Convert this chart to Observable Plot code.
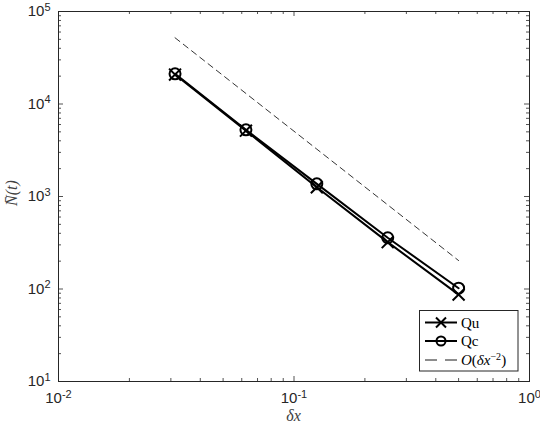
<!DOCTYPE html>
<html><head><meta charset="utf-8">
<script src="https://cdn.jsdelivr.net/npm/d3@7"></script>
<script src="https://cdn.jsdelivr.net/npm/@observablehq/plot@0.6"></script>
<style>body{margin:0;background:#fff}#chart{width:540px;height:428px}</style>
</head><body><div id="chart"></div>
<script>
// ---- data ----
const dx = [1/32, 1/16, 1/8, 1/4, 1/2];
const Qu = [20800, 5150, 1260, 321, 87];
const Qc = [21200, 5260, 1370, 358, 102];
const refO2 = [52000, 13000, 3250, 812, 203];
const xMajor = [0.01, 0.1, 1];
const xTickLabels = ["10^-2", "10^-1", "10^0"];
const yMajor = [10, 100, 1000, 10000, 100000];
const yTickLabels = ["10^1", "10^2", "10^3", "10^4", "10^5"];
const legendLabels = ["Qu", "Qc"];

function minorTicks(lo, hi) {
  const a = [];
  for (let e = lo; e < hi; e++) for (let m = 2; m <= 9; m++) a.push(m * Math.pow(10, e));
  return a;
}
const xMinor = minorTicks(-2, 0);
const yMinor = minorTicks(1, 5);

const quData = dx.map((x, i) => ({x, y: Qu[i]}));
const qcData = dx.map((x, i) => ({x, y: Qc[i]}));
const refData = dx.map((x, i) => ({x, y: refO2[i]}));

const W = 540, H = 428, ML = 58, MR = 11, MT = 11, MB = 47;
const PW = W - ML - MR, PH = H - MT - MB;
const AX = "#262626";

const plot = Plot.plot({
  width: W, height: H,
  marginLeft: ML, marginRight: MR, marginTop: MT, marginBottom: MB,
  x: {type: "log", domain: [0.01, 1], axis: null},
  y: {type: "log", domain: [10, 1e5], axis: null},
  style: {fontFamily: "'Liberation Sans', Arial, Helvetica, sans-serif", fontSize: "14px", color: AX, background: "#fff"},
  marks: [
    Plot.tickX(xMajor, {x: d => d, insetTop: PH - 5, stroke: AX, strokeWidth: 0.8}),
    Plot.tickX(xMajor, {x: d => d, insetBottom: PH - 5, stroke: AX, strokeWidth: 0.8}),
    Plot.tickX(xMinor, {x: d => d, insetTop: PH - 3, stroke: AX, strokeWidth: 0.8}),
    Plot.tickX(xMinor, {x: d => d, insetBottom: PH - 3, stroke: AX, strokeWidth: 0.8}),
    Plot.tickY(yMajor, {y: d => d, insetRight: PW - 5, stroke: AX, strokeWidth: 0.8}),
    Plot.tickY(yMajor, {y: d => d, insetLeft: PW - 5, stroke: AX, strokeWidth: 0.8}),
    Plot.tickY(yMinor, {y: d => d, insetRight: PW - 3, stroke: AX, strokeWidth: 0.8}),
    Plot.tickY(yMinor, {y: d => d, insetLeft: PW - 3, stroke: AX, strokeWidth: 0.8}),
    Plot.frame({stroke: AX, strokeWidth: 1}),
    Plot.axisX(xMajor, {anchor: "bottom", tickSize: 0, tickPadding: 11, label: null, fontSize: 15,
      tickFormat: d => xTickLabels[xMajor.indexOf(d)], fill: AX}),
    Plot.axisY(yMajor, {anchor: "left", tickSize: 0, tickPadding: 8, label: null, fontSize: 15,
      tickFormat: d => yTickLabels[yMajor.indexOf(d)], fill: AX}),
    Plot.line(refData, {x: "x", y: "y", stroke: "#000", strokeWidth: 0.8, strokeDasharray: "6,4.5"}),
    Plot.line(quData, {x: "x", y: "y", stroke: "#000", strokeWidth: 2}),
    Plot.line(qcData, {x: "x", y: "y", stroke: "#000", strokeWidth: 2}),
    Plot.dot(quData, {x: "x", y: "y", symbol: "times", r: 5.5, stroke: "#000", strokeWidth: 2}),
    Plot.dot(qcData, {x: "x", y: "y", symbol: "circle", r: 5.5, fill: "none", stroke: "#000", strokeWidth: 2})
  ]
});

const svg = d3.select(plot);
svg.selectAll("g[aria-label='x-axis tick label'] text, g[aria-label='y-axis tick label'] text").each(function () {
  const t = d3.select(this);
  const [b, e] = t.text().split("^");
  t.text(null);
  t.append("tspan").text(b);
  t.append("tspan").attr("dy", "-0.5em").attr("font-size", "11px").text(e);
});

const serif = "'Liberation Serif', 'Times New Roman', serif";
svg.append("text")
  .attr("x", ML + PW * 0.5).attr("y", 421)
  .attr("text-anchor", "middle")
  .attr("font-family", serif).attr("font-style", "italic").attr("font-size", "16px")
  .attr("fill", "#404040").text("δx");
svg.append("text")
  .attr("transform", "translate(17,193) rotate(-90)")
  .attr("text-anchor", "middle")
  .attr("font-family", serif).attr("font-style", "italic").attr("font-size", "16px")
  .attr("fill", "#404040").text("N̄(t)");

// legend
const lg = svg.append("g").attr("text-anchor", "start");
lg.append("rect").attr("x", 419.5).attr("y", 310.5).attr("width", 98.5).attr("height", 60.5)
  .attr("fill", "#fff").attr("stroke", AX).attr("stroke-width", 1);
const rows = [322.5, 341, 360];
const lx1 = 425, lx2 = 457, lmx = 441;
lg.append("line").attr("x1", lx1).attr("x2", lx2).attr("y1", rows[0]).attr("y2", rows[0]).attr("stroke", "#000").attr("stroke-width", 2);
lg.append("path").attr("d", `M${lmx-5},${rows[0]-5}L${lmx+5},${rows[0]+5}M${lmx-5},${rows[0]+5}L${lmx+5},${rows[0]-5}`).attr("stroke", "#000").attr("stroke-width", 2);
lg.append("line").attr("x1", lx1).attr("x2", lx2).attr("y1", rows[1]).attr("y2", rows[1]).attr("stroke", "#000").attr("stroke-width", 2);
lg.append("circle").attr("cx", lmx).attr("cy", rows[1]).attr("r", 4.5).attr("fill", "none").attr("stroke", "#000").attr("stroke-width", 2);
lg.append("path").attr("d", `M${lx1},${rows[2]}H${lx1 + 12}M${lx2 - 12},${rows[2]}H${lx2}`)
  .attr("stroke", "#000").attr("stroke-width", 0.9);
const tAttrs = sel => sel.attr("text-anchor", "start").attr("font-family", serif).attr("font-size", "15px").attr("fill", "#000");
tAttrs(lg.append("text").attr("x", 461).attr("y", rows[0] + 5)).text(legendLabels[0]);
tAttrs(lg.append("text").attr("x", 461).attr("y", rows[1] + 5)).text(legendLabels[1]);
const ot = tAttrs(lg.append("text").attr("x", 461).attr("y", rows[2] + 5));
ot.append("tspan").attr("font-style", "italic").text("O");
ot.append("tspan").text("(");
ot.append("tspan").attr("font-style", "italic").text("δx");
ot.append("tspan").attr("dy", "-5").attr("font-size", "10px").text("−2");
ot.append("tspan").attr("dy", "5").text(")");

document.getElementById("chart").appendChild(plot);
</script>
</body></html>
